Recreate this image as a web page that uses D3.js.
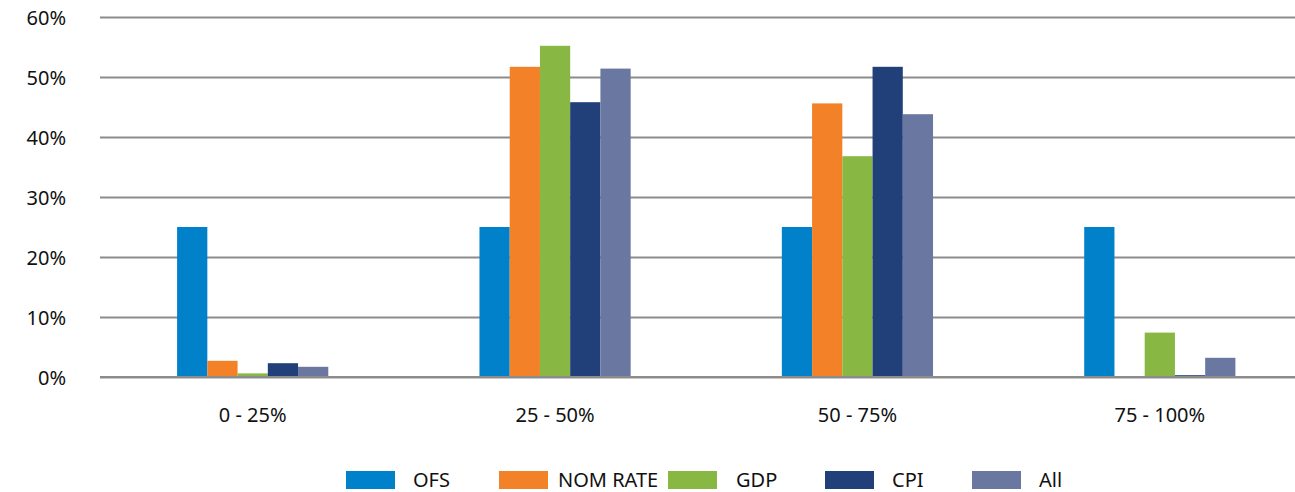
<!DOCTYPE html>
<html>
<head>
<meta charset="utf-8">
<script src="https://cdn.jsdelivr.net/npm/d3@7"></script>
<style>
  html, body { margin: 0; padding: 0; background: #ffffff; }
  svg text { font-family: "Noto Sans", "Open Sans", sans-serif; fill: #111111; }
</style>
</head>
<body>
<svg id="chart" width="1295" height="492"></svg>
<script>
// Share of responses in each range, by series (percent)
const categories = ["0 - 25%", "25 - 50%", "50 - 75%", "75 - 100%"];
const seriesNames = ["OFS", "NOM RATE", "GDP", "CPI", "All"];
const ofsValues     = [25.0, 25.0, 25.0, 25.0];
const nomRateValues = [2.7, 51.7, 45.6, 0.0];
const gdpValues     = [0.6, 55.2, 36.8, 7.4];
const cpiValues     = [2.3, 45.8, 51.7, 0.3];
const allValues     = [1.7, 51.4, 43.8, 3.2];
const yTicks = [0, 10, 20, 30, 40, 50, 60];
const seriesColors = ["#0081C9", "#F28127", "#88B843", "#21407A", "#6A77A1"];

const seriesValues = [ofsValues, nomRateValues, gdpValues, cpiValues, allValues];

const svg = d3.select("#chart");
const plot = { left: 100, right: 1311, top: 17, bottom: 377 };
const fontSize = 20;

const y = d3.scaleLinear().domain([0, 60]).range([plot.bottom, plot.top]);
const x0 = d3.scaleBand().domain(categories).range([plot.left + 1.5, plot.right]).padding(0);
const bw = x0.bandwidth();
const x1 = d3.scaleBand().domain(seriesNames).range([bw * 0.25, bw * 0.75]).padding(0);

// Horizontal gridlines and percentage labels
const yAxis = d3.axisLeft(y).tickValues(yTicks).tickSize(-(plot.right - plot.left)).tickFormat(d => d + "%").tickPadding(34);
const gy = svg.append("g").attr("transform", `translate(${plot.left},0)`).call(yAxis);
gy.select(".domain").remove();
gy.selectAll(".tick line").attr("stroke", "#8c8c8c").attr("stroke-width", 2);
gy.selectAll(".tick text").attr("font-size", fontSize).attr("fill", "#111111").attr("dy", "0.35em");

// Bars
const groups = svg.append("g").selectAll("g")
  .data(categories)
  .join("g")
  .attr("transform", d => `translate(${x0(d)},0)`);

groups.selectAll("rect")
  .data((c, i) => seriesNames.map((s, j) => ({ series: s, value: seriesValues[j][i], color: seriesColors[j] })))
  .join("rect")
  .attr("x", d => x1(d.series))
  .attr("width", x1.bandwidth())
  .attr("y", d => y(d.value))
  .attr("height", d => Math.max(0, y(0) - y(d.value)))
  .attr("fill", d => d.color);

// Baseline drawn over bars
svg.append("line")
  .attr("x1", plot.left).attr("x2", plot.right)
  .attr("y1", y(0)).attr("y2", y(0))
  .attr("stroke", "#8c8c8c").attr("stroke-width", 2);

// Category labels
const xAxis = d3.axisBottom(x0).tickSize(0).tickPadding(31);
const gx = svg.append("g").attr("transform", `translate(0,${plot.bottom})`).call(xAxis);
gx.select(".domain").remove();
gx.selectAll(".tick text").attr("font-size", fontSize).attr("fill", "#111111");

// Legend
const legendX = [346, 499, 668, 825, 972];
const legendTextX = [67, 59, 68, 67, 67];
const legend = svg.append("g").selectAll("g")
  .data(seriesNames)
  .join("g")
  .attr("transform", (d, i) => `translate(${legendX[i]},471)`);
legend.append("rect").attr("width", 49).attr("height", 18).attr("fill", (d, i) => seriesColors[i]);
legend.append("text").attr("x", (d, i) => legendTextX[i]).attr("y", 16).attr("font-size", fontSize).text(d => d);
</script>
</body>
</html>
